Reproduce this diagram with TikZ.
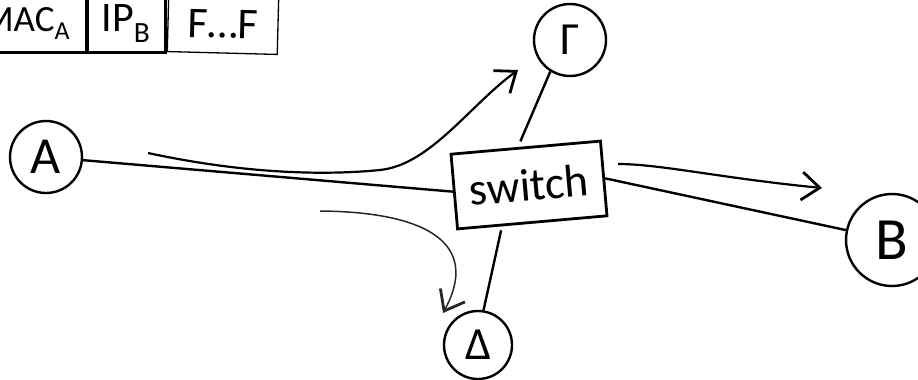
\documentclass[tikz,border=0pt]{standalone}
\usepackage{fontspec}
\setmainfont{Carlito}
\usetikzlibrary{arrows.meta,calc}
\begin{document}
\begin{tikzpicture}[x=1pt,y=-1pt,
  hand/.style={line width=2.4pt,draw=black},
  circ/.style={circle,hand,inner sep=0pt},
  flow/.style={line width=2.2pt,-{Straight Barb[length=18pt,width=28pt,line width=2.8pt]}},
  hbox/.style={rectangle,inner sep=0pt},
  big/.style={font=\fontsize{#1}{#1}\selectfont},
]
\useasboundingbox (0,0) rectangle (918,380);
\clip (0,0) rectangle (918,380);
% header boxes
\node[hbox,hand,line width=3pt,minimum width=127pt,minimum height=57pt,big=37] (mac) at (23,23.5) {\hspace*{6pt}MAC\textsubscript{A}};
\node[hbox,hand,line width=3pt,minimum width=78pt,minimum height=57pt,big=42] (ip) at (126,23.5) {IP\textsubscript{B}};
\node[hbox,draw,line width=1.3pt,minimum width=110pt,minimum height=58pt,big=44,rotate=-1.5] (ff) at (223,24) {F\ldots F};
% nodes
\node[circ,minimum width=72pt,big=52] (A) at (46,157) {A};
\node[circ,minimum width=72pt,big=46] (G) at (570,40) {Γ};
\node[circ,minimum width=68pt,big=46] (D) at (478,345) {Δ};
\node[circ,minimum width=92pt,big=60] (B) at (892,240) {B};
\node[rectangle,hand,line width=2.8pt,minimum width=150pt,minimum height=75pt,rotate=5,big=46] (sw) at (529,185) {switch};
% connectors
\draw[hand] (A) -- (sw.west);
\draw[hand] (sw.east) -- (B);
\draw[hand,shorten <=6pt] ($(sw.north west)!0.45!(sw.north east)$) -- (G.238);
\draw[hand,shorten <=4pt] ($(sw.south west)!0.3!(sw.south east)$) -- (D.81);
% flow arrows
\coordinate (a1s) at (148,153);
\coordinate (a1t) at (518,70);
\draw[flow] (a1s) .. controls (250,175) and (330,175) .. (380,170) .. controls (430,165) and (470,105) .. (a1t);
\coordinate (a2s) at (618,164);
\coordinate (a2t) at (822,188);
\draw[flow] (a2s) .. controls (660,164) and (720,178) .. (a2t);
\coordinate (a3s) at (320,211);
\coordinate (a3t) at (443,313);
\draw[flow,line width=1.5pt,draw=black!85] (a3s) .. controls (430,212) and (480,245) .. (a3t);
\end{tikzpicture}
\end{document}
